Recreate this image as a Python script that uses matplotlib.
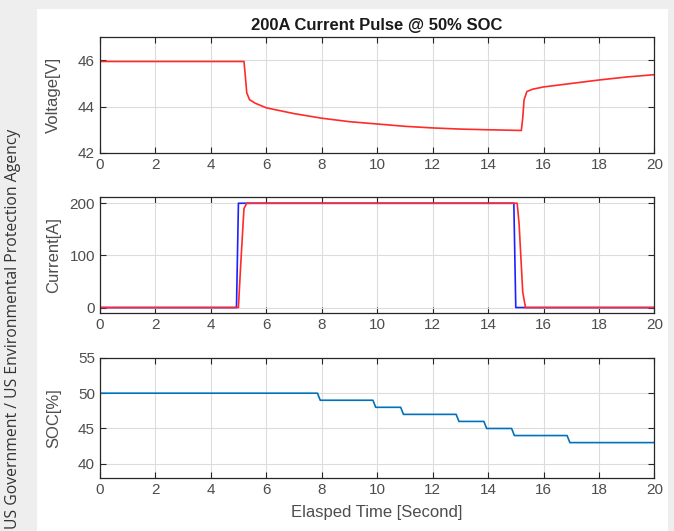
import numpy as np
import matplotlib.pyplot as plt
from matplotlib.patches import Rectangle

# Pack voltage response to a 200 A pulse (time in s, volts)
v_time = [0, 5.2, 5.25, 5.3, 5.4, 5.6, 6.0, 7.0, 8.0, 9.0, 10.0, 11.0, 12.0, 13.0, 14.0, 15.2,
          15.25, 15.3, 15.4, 15.6, 16.0, 17.0, 18.0, 19.0, 20.0]
voltage = [45.95, 45.95, 45.3, 44.6, 44.3, 44.15, 43.95, 43.7, 43.5, 43.35, 43.25, 43.15, 43.08,
           43.03, 43.0, 42.97, 43.5, 44.3, 44.65, 44.75, 44.85, 45.0, 45.15, 45.28, 45.38]

# Current command (blue) and measured current (red)
i_ref_time = [0, 4.93, 5.0, 14.93, 15.0, 20]
i_ref = [0, 0, 200, 200, 0, 0]
i_meas_time = [0, 5.0, 5.08, 5.2, 5.3, 15.05, 15.12, 15.25, 15.35, 20]
i_meas = [0, 0, 80, 190, 200, 200, 160, 30, 0, 0]

# State of charge steps
soc_time = [0, 7.85, 7.95, 9.85, 9.95, 10.85, 10.95, 12.85, 12.95, 13.85, 13.95,
            14.85, 14.95, 16.85, 16.95, 20]
soc = [50, 50, 49, 49, 48, 48, 47, 47, 46, 46, 45, 45, 44, 44, 43, 43]

plt.rcParams['font.family'] = ['Liberation Sans', 'DejaVu Sans']
grey = '#262626'
label_grey = '#4d4d4d'

fig = plt.figure(figsize=(6.74, 5.31), dpi=100, facecolor='#eeeeee')
# white page behind the plots
fig.patches.append(Rectangle((37 / 674, 0), (668 - 37) / 674, 1 - 9 / 531,
                             transform=fig.transFigure, facecolor='white',
                             edgecolor='none', zorder=-10))

left, width = 0.148, 0.823
ax1 = fig.add_axes([left, 0.712, width, 0.218])
ax2 = fig.add_axes([left, 0.411, width, 0.218])
ax3 = fig.add_axes([left, 0.100, width, 0.226])


def matlab_style(ax, ylabel):
    ax.set_xlim(0, 20)
    ax.set_xticks(range(0, 21, 2))
    ax.grid(True, color='#dcdcdc', linewidth=0.8)
    ax.set_axisbelow(True)
    ax.tick_params(direction='in', top=True, right=True, length=4,
                   colors=grey, labelsize=11, labelcolor=label_grey)
    for s in ax.spines.values():
        s.set_color(grey)
        s.set_linewidth(0.9)
    ax.set_ylabel(ylabel, fontsize=12, color=label_grey)
    ax.yaxis.set_label_coords(-0.07, 0.5)


ax1.plot(v_time, voltage, color='#ff2a2a', linewidth=1.2)
ax1.set_ylim(42, 47)
ax1.set_yticks([42, 44, 46])
ax1.set_title('200A Current Pulse @ 50% SOC', fontsize=12, fontweight='bold',
              color='#1a1a1a', pad=5)
matlab_style(ax1, 'Voltage[V]')

ax2.plot(i_ref_time, i_ref, color='#2020ff', linewidth=1.2)
ax2.plot(i_meas_time, i_meas, color='#ff2a2a', linewidth=1.2)
ax2.set_ylim(-10, 212)
ax2.set_yticks([0, 100, 200])
matlab_style(ax2, 'Current[A]')

ax3.plot(soc_time, soc, color='#0072bd', linewidth=1.2)
ax3.set_ylim(38, 55)
ax3.set_yticks([40, 45, 50, 55])
ax3.set_xlabel('Elasped Time [Second]', fontsize=12, color=label_grey, labelpad=6)
matlab_style(ax3, 'SOC[%]')

fig.text(0.008, 0.003, 'US Government / US Environmental Protection Agency',
         rotation=90, fontsize=11.3, color='#333333', ha='left', va='bottom',
         family=['Open Sans', 'DejaVu Sans'])

fig.savefig('out.png', dpi=100, facecolor=fig.get_facecolor())
